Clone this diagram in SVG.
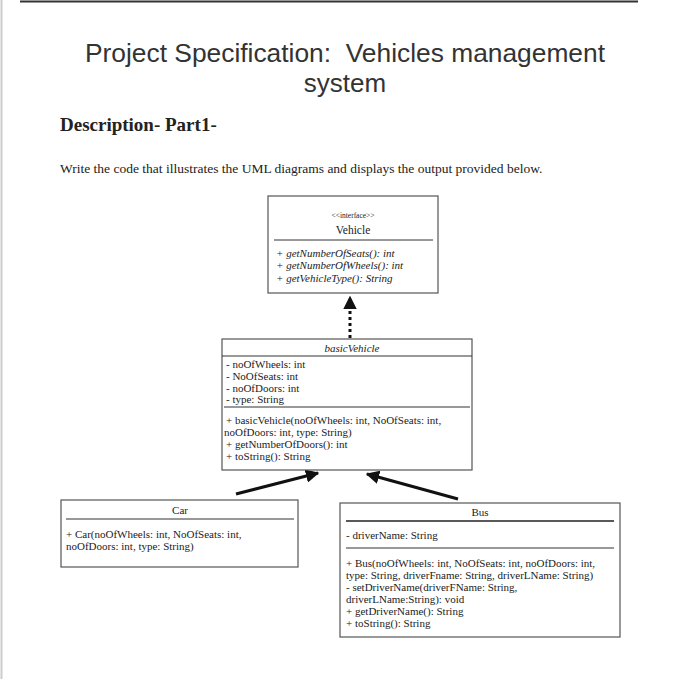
<svg xmlns="http://www.w3.org/2000/svg" width="700" height="679" viewBox="0 0 700 679">
<defs>
<style>
.t{font-family:"Liberation Serif","Times New Roman",serif;font-size:11px;fill:#222}
.i{font-style:italic}
.box{fill:#fff;stroke:#555;stroke-width:1.2}
.sep{stroke:#333;stroke-width:1}
.conn{stroke:#111;stroke-width:3;fill:none}
.h{font-family:"Liberation Sans",Arial,sans-serif;font-size:26px;fill:#333}
</style>
<marker id="ah" viewBox="0 0 10 10" refX="9" refY="5" markerWidth="4.5" markerHeight="4.5" orient="auto-start-reverse" markerUnits="strokeWidth">
<path d="M0,0 L10,5 L0,10 z" fill="#111"/>
</marker>
</defs>
<rect width="700" height="679" fill="#fff"/>
<line x1="20" y1="1.5" x2="638" y2="1.5" stroke="#333" stroke-width="2"/>
<line x1="1.5" y1="0" x2="1.5" y2="679" stroke="#ccc" stroke-width="2"/>
<g id="title">
<text class="h" x="85" y="62" textLength="520" lengthAdjust="spacingAndGlyphs" xml:space="preserve">Project Specification:  Vehicles management</text>
<text class="h" x="345" y="92" text-anchor="middle">system</text>
</g>
<g id="description">
<text x="60" y="131" style="font-family:'Liberation Serif','Times New Roman',serif;font-size:19px;font-weight:bold;fill:#222">Description- Part1-</text>
<text x="60" y="173" style="font-family:'Liberation Serif','Times New Roman',serif;font-size:13.5px;fill:#222">Write the code that illustrates the UML diagrams and displays the output provided below.</text>
</g>
<g id="connectors">
<line x1="350" y1="338" x2="350" y2="297" stroke="#111" stroke-width="3" stroke-dasharray="3,3" marker-end="url(#ah)"/>
<line class="conn" x1="236" y1="494" x2="318" y2="473" marker-end="url(#ah)"/>
<line class="conn" x1="458" y1="499" x2="367" y2="474" marker-end="url(#ah)"/>
</g>
<g id="Vehicle">
<rect class="box" x="268" y="196" width="170" height="97"/>
<text class="t" x="353" y="218" text-anchor="middle" style="font-size:7.5px">&lt;&lt;interface&gt;&gt;</text>
<text class="t" x="353" y="234" text-anchor="middle" style="font-size:11.5px">Vehicle</text>
<line class="sep" x1="274" y1="240" x2="433" y2="240"/>
<text class="t i" x="276" y="257">+ getNumberOfSeats(): int</text>
<text class="t i" x="276" y="269">+ getNumberOfWheels(): int</text>
<text class="t i" x="276" y="282">+ getVehicleType(): String</text>
</g>
<g id="basicVehicle">
<rect class="box" x="222" y="339" width="250" height="131"/>
<text class="t i" x="352" y="352" text-anchor="middle">basicVehicle</text>
<line class="sep" x1="222" y1="356" x2="472" y2="356"/>
<text class="t" x="226" y="368">- noOfWheels: int</text>
<text class="t" x="226" y="380">- NoOfSeats: int</text>
<text class="t" x="226" y="392">- noOfDoors: int</text>
<text class="t" x="226" y="403">- type: String</text>
<line class="sep" x1="224" y1="407" x2="470" y2="407"/>
<text class="t" x="226" y="424">+ basicVehicle(noOfWheels: int, NoOfSeats: int,</text>
<text class="t" x="224" y="436">noOfDoors: int, type: String)</text>
<text class="t" x="226" y="448">+ getNumberOfDoors(): int</text>
<text class="t" x="226" y="460">+ toString(): String</text>
</g>
<g id="Car">
<rect class="box" x="61" y="500" width="237" height="67"/>
<text class="t" x="180" y="514" text-anchor="middle">Car</text>
<line class="sep" x1="66" y1="519" x2="294" y2="519"/>
<text class="t" x="66" y="538">+ Car(noOfWheels: int, NoOfSeats: int,</text>
<text class="t" x="66" y="550">noOfDoors: int, type: String)</text>
</g>
<g id="Bus">
<rect class="box" x="340" y="503" width="280" height="134"/>
<text class="t" x="480" y="516" text-anchor="middle">Bus</text>
<line x1="346" y1="521" x2="614" y2="521" stroke="#222" stroke-width="1.5"/>
<text class="t" x="346" y="539">- driverName: String</text>
<line class="sep" x1="346" y1="548" x2="614" y2="548"/>
<text class="t" x="346" y="567">+ Bus(noOfWheels: int, NoOfSeats: int, noOfDoors: int,</text>
<text class="t" x="346" y="579">type: String, driverFname: String, driverLName: String)</text>
<text class="t" x="346" y="591">- setDriverName(driverFName: String,</text>
<text class="t" x="346" y="603">driverLName:String): void</text>
<text class="t" x="346" y="615">+ getDriverName(): String</text>
<text class="t" x="346" y="627">+ toString(): String</text>
</g>
</svg>
